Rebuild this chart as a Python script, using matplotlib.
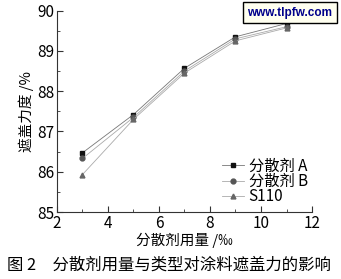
import matplotlib
matplotlib.use("Agg")
import matplotlib.pyplot as plt
from matplotlib.ticker import MultipleLocator

plt.rcParams['font.family'] = ['Noto Sans CJK SC', 'DejaVu Sans']

dosage = [3, 5, 7, 9, 11]
series_a = [86.47, 87.42, 88.57, 89.35, 89.68]
series_b = [86.33, 87.35, 88.50, 89.30, 89.60]
series_s110 = [85.93, 87.30, 88.45, 89.25, 89.57]
labels = ["分散剂 A", "分散剂 B", "S110"]

fig = plt.figure(figsize=(3.41, 2.79), dpi=100)
ax = fig.add_axes([0.167, 0.240, 0.748, 0.722])

ax.plot(dosage, series_a, color='#777777', lw=0.6, marker='s', ms=3.5,
        mfc='#111111', mec='#111111', label=labels[0])
ax.plot(dosage, series_b, color='#aaaaaa', lw=0.6, marker='o', ms=3.5,
        mfc='#555555', mec='#555555', label=labels[1])
ax.plot(dosage, series_s110, color='#aaaaaa', lw=0.6, marker='^', ms=3.5,
        mfc='#666666', mec='#666666', label=labels[2])

ax.set_xlim(2, 12)
ax.set_ylim(85, 90)
ax.xaxis.set_major_locator(MultipleLocator(2))
ax.xaxis.set_minor_locator(MultipleLocator(1))
ax.yaxis.set_major_locator(MultipleLocator(1))
ax.yaxis.set_minor_locator(MultipleLocator(0.5))
ax.tick_params(which='both', direction='in', labelsize=11, color='#333333', pad=2)
ax.tick_params(which='major', length=4)
ax.tick_params(which='minor', length=2.5)
for s in ['top', 'right']:
    ax.spines[s].set_visible(False)
for s in ['left', 'bottom']:
    ax.spines[s].set_color('#333333')

ax.set_xlabel("分散剂用量 /‰", fontsize=10.5, labelpad=1)
ax.set_ylabel("遮盖力度 /%", fontsize=10.5, labelpad=2)

leg = ax.legend(loc='lower right', bbox_to_anchor=(1.025, -0.02), frameon=False,
                fontsize=11, handlelength=1.45, handletextpad=0.3,
                labelspacing=-0.1, borderpad=0.2)

fig.text(0.02, 0.02, "图 2　分散剂用量与类型对涂料遮盖力的影响", fontsize=11.8,
         ha='left', va='bottom')

fig.text(0.975, 0.955, "www.tlpfw.com", fontsize=8.5, fontweight='bold',
         color='#00008b', ha='right', va='center', family='Liberation Sans',
         bbox=dict(boxstyle='square,pad=0.35', fc='#fffff0', ec='black', lw=1))

fig.savefig("out.png", dpi=100)
